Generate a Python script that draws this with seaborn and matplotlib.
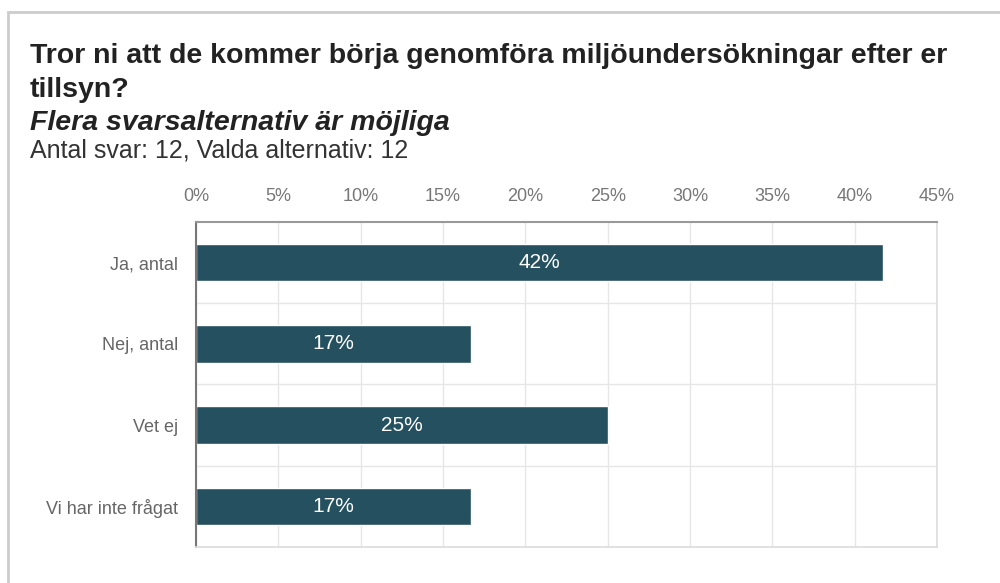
import matplotlib
matplotlib.use('Agg')
import matplotlib.pyplot as plt
import seaborn as sns
import pandas as pd
from matplotlib.patches import Rectangle
from matplotlib.ticker import FuncFormatter

categories = ['Ja, antal', 'Nej, antal', 'Vet ej', 'Vi har inte frågat']
percent = [41.7, 16.7, 25.0, 16.7]
bar_labels = ['42%', '17%', '25%', '17%']
x_ticks = [0, 5, 10, 15, 20, 25, 30, 35, 40, 45]

title_lines = ['Tror ni att de kommer börja genomföra miljöundersökningar efter er',
               'tillsyn?']
subtitle = 'Flera svarsalternativ är möjliga'
info = 'Antal svar: 12, Valda alternativ: 12'

bar_color = '#25505f'

sns.set_theme(style='white')
plt.rcParams['font.family'] = ['Liberation Sans', 'DejaVu Sans']

df = pd.DataFrame({'alt': categories, 'pct': percent})

fig = plt.figure(figsize=(10, 5.83), dpi=100)
ax = fig.add_axes([0.196, 0.062, 0.741, 0.557])

sns.barplot(data=df, x='pct', y='alt', color=bar_color, width=0.46,
            saturation=1, ax=ax, orient='h')

ax.set_xlim(0, 45)
ax.set_ylim(3.5, -0.5)
ax.set_xticks(x_ticks)
ax.xaxis.set_major_formatter(FuncFormatter(lambda v, p: '{:d}%'.format(int(v))))
ax.xaxis.tick_top()
ax.tick_params(axis='x', length=0, pad=12, labelsize=13, labelcolor='#777777')
ax.tick_params(axis='y', length=0, pad=13, labelsize=13, labelcolor='#666666')
ax.set_xlabel('')
ax.set_ylabel('')

# grid: vertical at ticks, horizontal between categories
ax.set_yticks([0, 1, 2, 3])
ax.set_yticks([0.5, 1.5, 2.5], minor=True)
ax.grid(axis='x', color='#e6e6e6', linewidth=1)
ax.grid(axis='y', which='minor', color='#e6e6e6', linewidth=1)
ax.set_axisbelow(True)

for side in ['right', 'bottom']:
    ax.spines[side].set_color('#dddddd')
ax.spines['top'].set_color('#999999')
ax.spines['top'].set_linewidth(1.5)
ax.spines['left'].set_color('#777777')
ax.spines['left'].set_linewidth(1.5)

for i, (v, lab) in enumerate(zip(percent, bar_labels)):
    ax.text(v / 2, i, lab, ha='center', va='center', color='white', fontsize=15)

fig.text(0.030, 0.892, title_lines[0], fontsize=20.5, fontweight='bold',
         color='#222222', va='baseline')
fig.text(0.030, 0.834, title_lines[1], fontsize=20.5, fontweight='bold',
         color='#222222', va='baseline')
fig.text(0.030, 0.777, subtitle, fontsize=20.5, fontweight='bold', style='italic',
         color='#222222', va='baseline')
fig.text(0.030, 0.729, info, fontsize=18, color='#333333', va='baseline')

# card border
fig.patches.append(Rectangle((0.008, -0.1), 1.1, 1.08, transform=fig.transFigure,
                             fill=False, edgecolor='#cccccc', linewidth=2))

fig.savefig('out.png', dpi=100)
